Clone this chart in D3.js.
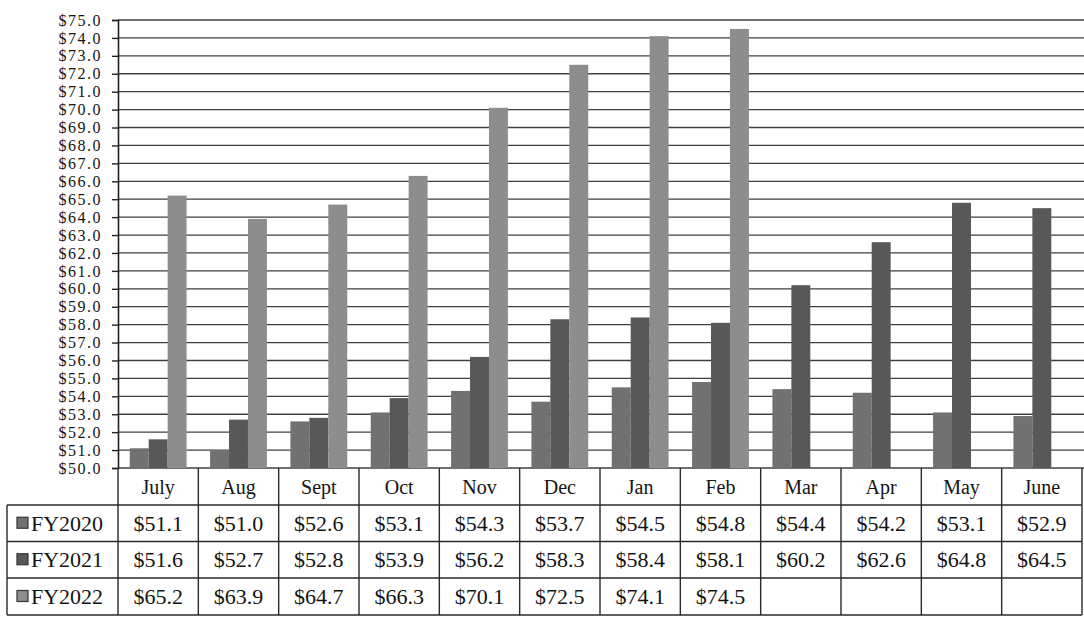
<!DOCTYPE html>
<html>
<head>
<meta charset="utf-8">
<script src="https://cdn.jsdelivr.net/npm/d3@7"></script>
<style>
  html, body { margin: 0; padding: 0; background: #ffffff; }
  svg { display: block; }
  text { font-family: "Liberation Serif", "Times New Roman", serif; fill: #141414; }
</style>
</head>
<body>
<svg id="chart" width="1084" height="625"></svg>
<script>
// Monthly averages by fiscal year (FY runs July–June)
const months = ["July", "Aug", "Sept", "Oct", "Nov", "Dec", "Jan", "Feb", "Mar", "Apr", "May", "June"];
const seriesNames = ["FY2020", "FY2021", "FY2022"];
const fy2020 = [51.1, 51.0, 52.6, 53.1, 54.3, 53.7, 54.5, 54.8, 54.4, 54.2, 53.1, 52.9];
const fy2021 = [51.6, 52.7, 52.8, 53.9, 56.2, 58.3, 58.4, 58.1, 60.2, 62.6, 64.8, 64.5];
const fy2022 = [65.2, 63.9, 64.7, 66.3, 70.1, 72.5, 74.1, 74.5, null, null, null, null];
const yTickValues = [50, 51, 52, 53, 54, 55, 56, 57, 58, 59, 60, 61, 62, 63, 64, 65, 66, 67, 68, 69, 70, 71, 72, 73, 74, 75];
const seriesColors = ["#717171", "#585858", "#8d8d8d"];

const seriesValues = [fy2020, fy2021, fy2022];
const fmt = v => "$" + v.toFixed(1);

const svg = d3.select("#chart");

const left = 118, right = 1082, plotTop = 20, plotBottom = 468;
const tableBottom = 615, legendLeft = 7;

const x = d3.scaleBand().domain(months).range([left, right]);
const xs = d3.scaleBand().domain(seriesNames).range([0, x.bandwidth()]).paddingOuter(0.62);
const y = d3.scaleLinear().domain([50, 75]).range([plotBottom, plotTop]);

// Horizontal gridlines
svg.append("g")
  .selectAll("line")
  .data(yTickValues)
  .join("line")
  .attr("x1", left)
  .attr("x2", 1084)
  .attr("y1", d => y(d))
  .attr("y2", d => y(d))
  .attr("stroke", "#3f3f3f")
  .attr("stroke-width", 1.3);

// Bars
const groups = svg.append("g")
  .selectAll("g")
  .data(seriesNames)
  .join("g")
  .attr("fill", (d, i) => seriesColors[i]);

groups.selectAll("rect")
  .data((s, i) => months.map((m, j) => ({ m, s, v: seriesValues[i][j] })).filter(d => d.v != null))
  .join("rect")
  .attr("x", d => x(d.m) + xs(d.s))
  .attr("width", xs.bandwidth())
  .attr("y", d => y(d.v))
  .attr("height", d => y(50) - y(d.v));

// Value axis
const yAxis = svg.append("g")
  .attr("transform", `translate(${left},0)`)
  .call(d3.axisLeft(y)
    .tickValues(yTickValues)
    .tickFormat(fmt)
    .tickSize(6)
    .tickPadding(10));
yAxis.select(".domain").attr("stroke", "#222").attr("stroke-width", 1.6);
yAxis.selectAll(".tick line").attr("stroke", "#222").attr("stroke-width", 1.4);
yAxis.selectAll(".tick text")
  .attr("font-size", 16)
  .attr("letter-spacing", 1.5)
  .attr("font-family", "Liberation Serif, serif")
  .attr("fill", "#141414");

// Data table below the plot
const rowEdges = [plotBottom, 505, 541.5, 578, tableBottom];
const table = svg.append("g").attr("stroke", "#2a2a2a").attr("stroke-width", 1.4);

// column separators
table.selectAll("line.col")
  .data(months.map(m => x(m)).concat([right]))
  .join("line")
  .attr("class", "col")
  .attr("x1", d => d).attr("x2", d => d)
  .attr("y1", plotBottom).attr("y2", tableBottom);

// row separators
table.selectAll("line.row")
  .data(rowEdges.slice(1))
  .join("line")
  .attr("class", "row")
  .attr("x1", legendLeft).attr("x2", right)
  .attr("y1", d => d).attr("y2", d => d);

// legend column left edge
table.append("line")
  .attr("x1", legendLeft).attr("x2", legendLeft)
  .attr("y1", rowEdges[1]).attr("y2", tableBottom);

// month headers
svg.append("g")
  .selectAll("text")
  .data(months)
  .join("text")
  .attr("x", d => x(d) + x.bandwidth() / 2)
  .attr("y", (rowEdges[0] + rowEdges[1]) / 2)
  .attr("dy", "0.35em")
  .attr("text-anchor", "middle")
  .attr("font-size", 20)
  .text(d => d);

// series rows: legend key + values
seriesNames.forEach((name, i) => {
  const cy = (rowEdges[i + 1] + rowEdges[i + 2]) / 2;
  const row = svg.append("g");
  row.append("rect")
    .attr("x", 17).attr("y", cy - 6)
    .attr("width", 11).attr("height", 11)
    .attr("fill", seriesColors[i])
    .attr("stroke", "#333").attr("stroke-width", 1.2);
  row.append("text")
    .attr("x", 31).attr("y", cy)
    .attr("dy", "0.35em")
    .attr("font-size", 22)
    .text(name);
  row.selectAll("text.val")
    .data(months.map((m, j) => ({ m, v: seriesValues[i][j] })).filter(d => d.v != null))
    .join("text")
    .attr("class", "val")
    .attr("x", d => x(d.m) + x.bandwidth() / 2)
    .attr("y", cy)
    .attr("dy", "0.35em")
    .attr("text-anchor", "middle")
    .attr("font-size", 22)
    .text(d => fmt(d.v));
});
</script>
</body>
</html>
